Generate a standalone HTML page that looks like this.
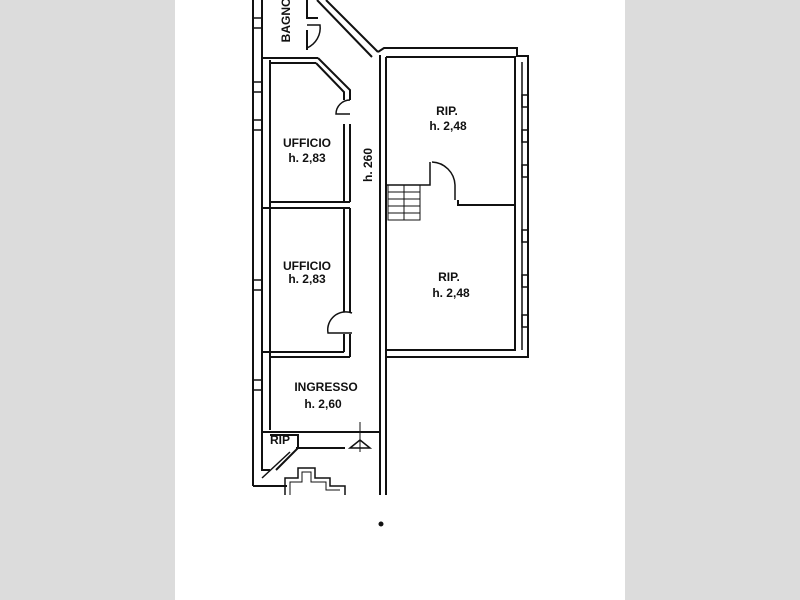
<!DOCTYPE html>
<html><head><style>
html,body{margin:0;padding:0;background:#dcdcdc;}
.w{position:absolute;left:175px;top:0;width:450px;height:600px;background:#fff;}
svg{position:absolute;left:0;top:0;}
text{font-family:"Liberation Sans",sans-serif;font-size:12px;font-weight:bold;fill:#111;text-anchor:middle;}
</style></head><body>
<div class="w"></div>
<svg width="800" height="600" viewBox="0 0 800 600" fill="none" stroke="#111" stroke-width="2">
<line x1="253" y1="0" x2="253" y2="486"/>
<line x1="262" y1="0" x2="262" y2="432"/>
<line x1="270" y1="60" x2="270" y2="430"/>
<g stroke-width="1.5">
<rect x="253" y="18" width="9" height="10"/><rect x="253" y="82" width="9" height="10"/><rect x="253" y="120" width="9" height="10"/>
<rect x="253" y="280" width="9" height="10"/><rect x="253" y="380" width="9" height="10"/>
</g>
<polyline points="307,0 307,18 318,18"/>
<polyline points="307,30 307,50"/>
<path d="M307 25 L320 25 A22 22 0 0 1 307 48" stroke-width="1.5"/>
<line x1="326" y1="0" x2="378" y2="52"/><line x1="317" y1="0" x2="372" y2="57"/>
<line x1="262" y1="58" x2="318" y2="58"/><line x1="270" y1="63" x2="316" y2="63"/>
<polyline points="318,58 350,90 350,100"/><polyline points="316,63 344,92 344,100"/>
<path d="M350 100 A14 14 0 0 0 336 114 L350 114" stroke-width="1.5"/>
<polyline points="350,124 350,202"/><polyline points="344,124 344,202"/>
<line x1="270" y1="202" x2="350" y2="202"/><line x1="262" y1="208" x2="350" y2="208"/>
<line x1="350" y1="208" x2="350" y2="312"/><line x1="344" y1="208" x2="344" y2="312"/>
<path d="M352 313 A18 18 0 0 0 328 333 L352 333" stroke-width="1.5"/>
<line x1="350" y1="334" x2="350" y2="357"/><line x1="344" y1="334" x2="344" y2="352"/>
<line x1="262" y1="352" x2="344" y2="352"/><line x1="270" y1="357" x2="350" y2="357"/>
<line x1="380" y1="55" x2="380" y2="495"/><line x1="386" y1="57" x2="386" y2="495"/>
<polyline points="378,52 384,48 517,48 517,56 528,56 528,357 386,357"/>
<polyline points="386,57 515,57 515,350 386,350"/>
<line x1="522" y1="62" x2="522" y2="350" stroke-width="1.5"/>
<g stroke-width="1.5">
<rect x="522" y="95" width="6" height="12"/><rect x="522" y="130" width="6" height="12"/><rect x="522" y="165" width="6" height="12"/>
<rect x="522" y="230" width="6" height="12"/><rect x="522" y="275" width="6" height="12"/><rect x="522" y="315" width="6" height="12"/>
</g>
<polyline points="386,185 430,185 430,162" stroke-width="1.5"/>
<path d="M432 162 A24 24 0 0 1 455 185 L455 200" stroke-width="1.5"/>
<polyline points="458,200 458,205 515,205" stroke-width="2"/>
<g stroke-width="1">
<rect x="388" y="185" width="32" height="35"/>
<line x1="388" y1="192" x2="420" y2="192"/><line x1="388" y1="199" x2="420" y2="199"/><line x1="388" y1="206" x2="420" y2="206"/><line x1="388" y1="213" x2="420" y2="213"/>
<line x1="404" y1="185" x2="404" y2="220"/>
</g>
<line x1="262" y1="432" x2="380" y2="432"/><line x1="296" y1="448" x2="345" y2="448"/>
<polyline points="262,432 262,470 270,470"/>
<polyline points="270,435 298,435 298,448 276,470"/>
<line x1="262" y1="478" x2="290" y2="452" stroke-width="1.5"/>
<line x1="253" y1="486" x2="287" y2="486"/>
<path d="M350 448 L360 440 L370 448 Z" stroke-width="1.5"/>
<line x1="360" y1="422" x2="360" y2="452" stroke-width="1"/>
<polyline points="285,495 285,478 298,478 298,468 315,468 315,478 330,478 330,486 345,486 345,495" stroke-width="1.5"/>
<polyline points="290,495 290,482 302,482 302,472 311,472 311,482 326,482 326,490 340,490" stroke-width="1"/>
<circle cx="381" cy="524" r="1.5" fill="#111"/>
</svg>
<svg width="800" height="600">
<text x="290" y="20" transform="rotate(-90 290 20)">BAGNO</text>
<text x="307" y="147">UFFICIO</text><text x="307" y="162">h. 2,83</text>
<text x="307" y="270">UFFICIO</text><text x="307" y="283">h. 2,83</text>
<text x="447" y="115">RIP.</text><text x="448" y="130">h. 2,48</text>
<text x="449" y="281">RIP.</text><text x="451" y="297">h. 2,48</text>
<text x="326" y="391">INGRESSO</text><text x="323" y="408">h. 2,60</text>
<text x="372" y="165" transform="rotate(-90 372 165)">h. 260</text>
<text x="280" y="444" font-size="10">RIP</text>
</svg>
</body></html>
